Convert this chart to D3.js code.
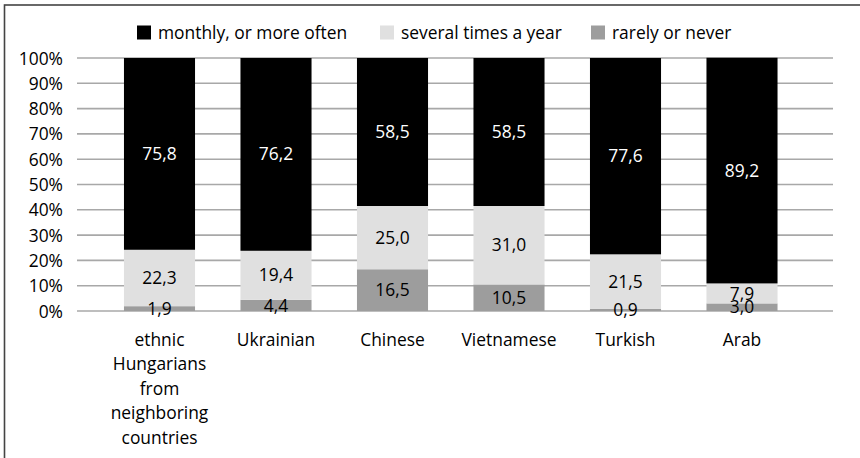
<!DOCTYPE html>
<html><head><meta charset="utf-8">
<script src="https://cdn.jsdelivr.net/npm/d3@7"></script>
<style>body{margin:0;background:#fff}svg{display:block}text{font-family:"Open Sans",sans-serif}</style>
</head><body><svg id="c" width="860" height="458"></svg>
<script>
const categories = ["ethnic Hungarians from neighboring countries","Ukrainian","Chinese","Vietnamese","Turkish","Arab"];
const rarely = [1.9, 4.4, 16.5, 10.5, 0.9, 3.0];
const several = [22.3, 19.4, 25.0, 31.0, 21.5, 7.9];
const monthly = [75.8, 76.2, 58.5, 58.5, 77.6, 89.2];
const seriesNames = ["monthly, or more often","several times a year","rarely or never"];
const yTicks = [0,10,20,30,40,50,60,70,80,90,100];

const colors = {"monthly, or more often":"#000000","several times a year":"#e0e0e0","rarely or never":"#9d9d9d"};
const labelColors = {"monthly, or more often":"#ffffff","several times a year":"#000000","rarely or never":"#000000"};

const svg = d3.select("#c");
const fs = 17.4;
const ff = "'Open Sans',sans-serif";
svg.append("rect").attr("x",4.5).attr("y",5).attr("width",900).attr("height",500)
  .attr("fill","none").attr("stroke","#444").attr("stroke-width",1.6);

const gridX0 = 77, gridX1 = 833;
const x = d3.scaleBand().domain(categories).range([101.25, 800.25]).paddingInner(0.39).paddingOuter(0.195);
const y = d3.scaleLinear().domain([0,100]).range([311, 58]);

// gridlines
svg.append("g").selectAll("line").data(yTicks).join("line")
  .attr("x1",gridX0).attr("x2",gridX1).attr("y1",d=>y(d)).attr("y2",d=>y(d))
  .attr("stroke","#a8a8a8").attr("stroke-width",1.6);

// y axis labels
const yAxis = d3.axisLeft(y).tickValues(yTicks).tickFormat(d=>d+"%").tickSize(0).tickPadding(0);
const ya = svg.append("g").attr("transform","translate(63,0)").call(yAxis);
ya.select(".domain").remove();
ya.selectAll("text").attr("font-size",fs).attr("fill","#000").attr("font-family",ff).attr("dy","0.35em");

// stacked data
const table = categories.map((c,i)=>({cat:c,"rarely or never":rarely[i],"several times a year":several[i],"monthly, or more often":monthly[i]}));
const stackKeys = ["rarely or never","several times a year","monthly, or more often"];
const stacked = d3.stack().keys(stackKeys)(table);

const layers = svg.append("g").selectAll("g").data(stacked).join("g").attr("fill",d=>colors[d.key]);
layers.selectAll("rect").data(d=>d).join("rect")
  .attr("x",d=>x(d.data.cat)).attr("width",x.bandwidth())
  .attr("y",d=>y(d[1])).attr("height",d=>y(d[0])-y(d[1]));

// value labels
const lg = svg.append("g");
stacked.forEach(layer=>{
  lg.selectAll(null).data(layer).join("text")
    .attr("x",d=>x(d.data.cat)+x.bandwidth()/2)
    .attr("y",d=>y((d[0]+d[1])/2))
    .attr("dy","0.35em").attr("text-anchor","middle").attr("font-size",fs)
    .attr("fill",labelColors[layer.key])
    .text(d=>d3.format(".1f")(d[1]-d[0]).replace(".",","));
});

// category labels
const xl = svg.append("g");
categories.forEach(c=>{
  const t = xl.append("text").attr("text-anchor","middle").attr("font-size",fs).attr("fill","#000");
  const words = c.split(" ");
  const lines = []; let cur = [];
  const tmp = svg.append("text").attr("font-size",fs);
  words.forEach(w=>{
    const test = cur.concat([w]).join(" ");
    tmp.text(test);
    if (cur.length && tmp.node().getComputedTextLength() > 114) { lines.push(cur.join(" ")); cur=[w]; }
    else cur.push(w);
  });
  lines.push(cur.join(" "));
  tmp.remove();
  lines.forEach((l,i)=>{
    t.append("tspan").attr("x",x(c)+x.bandwidth()/2).attr("y",340+i*24.4).attr("dy","0.35em").text(l);
  });
});

// legend
const legendX = [137, 380, 591];
const leg = svg.append("g");
seriesNames.forEach((n,i)=>{
  leg.append("rect").attr("x",legendX[i]).attr("y",25.5).attr("width",14).attr("height",14).attr("fill",colors[n]);
  leg.append("text").attr("x",legendX[i]+21).attr("y",32.5).attr("dy","0.35em").attr("font-size",fs).attr("fill","#000").text(n);
});
</script></body></html>
